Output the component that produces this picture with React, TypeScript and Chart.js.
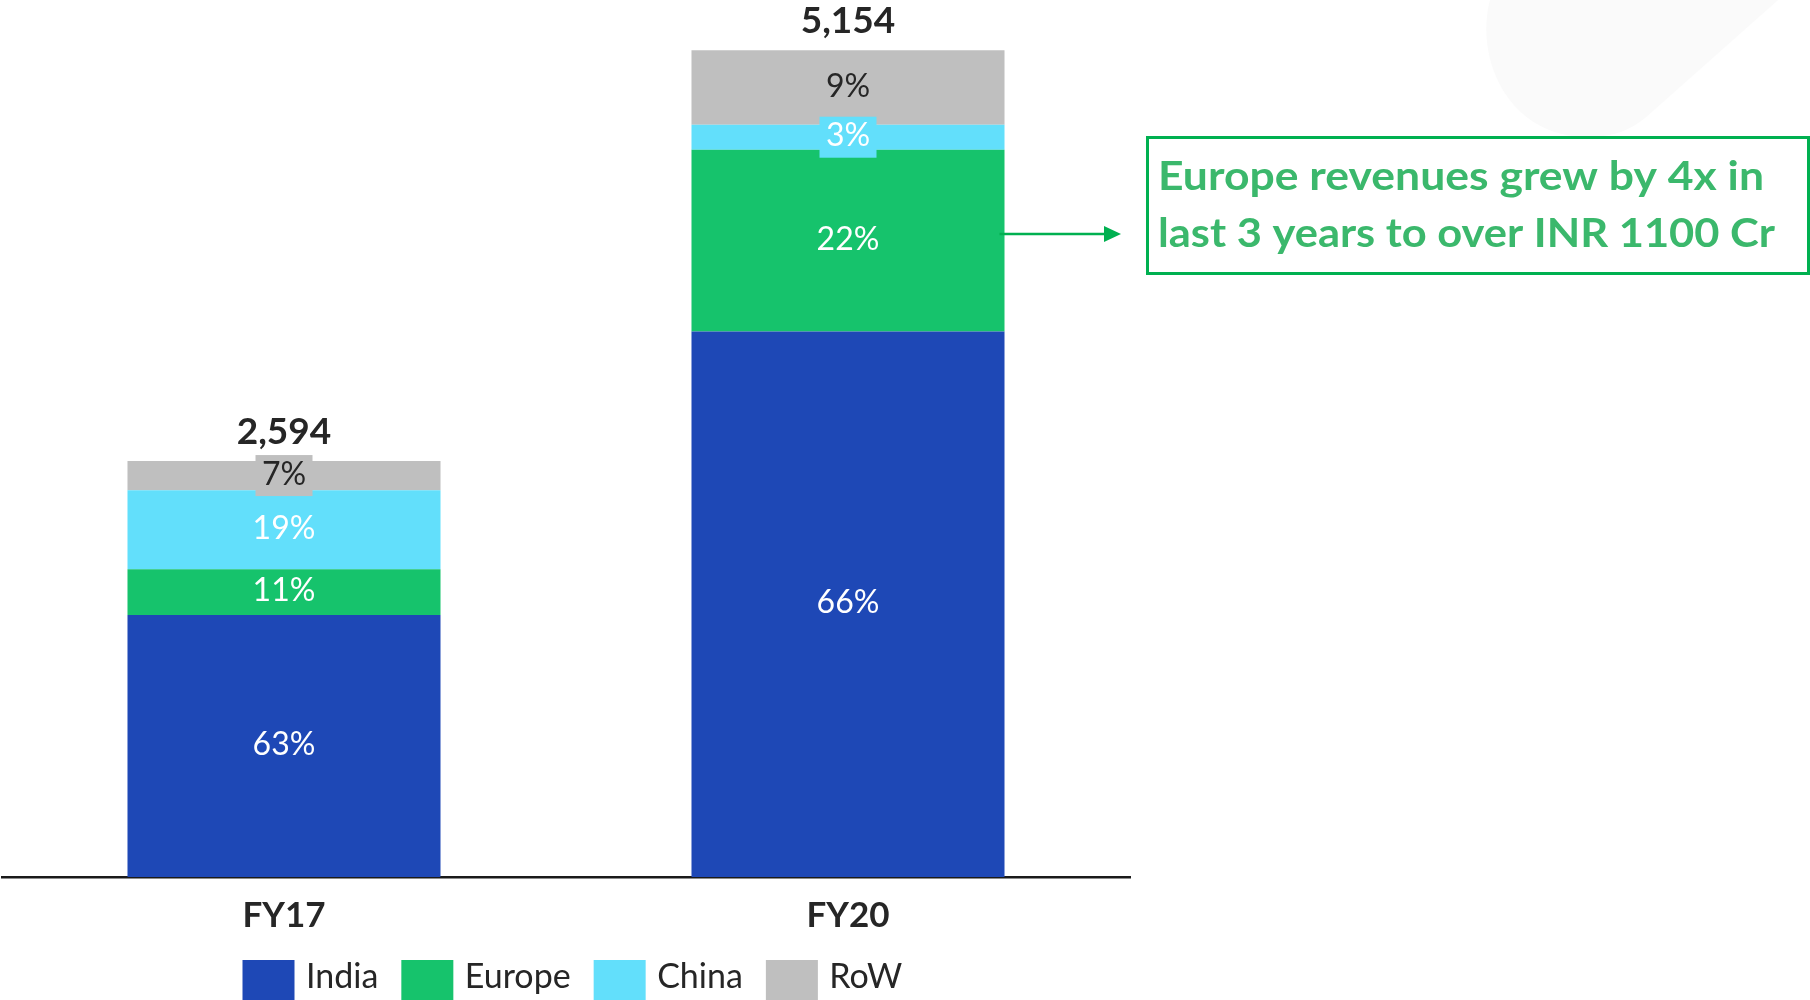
import React, { useEffect, useRef } from "react";
import { Chart, registerables } from "chart.js";

Chart.register(...registerables);

// ---- Data ----
const categories = ["FY17", "FY20"];
const seriesNames = ["India", "Europe", "China", "RoW"];
const india = [1634, 3401];
const europe = [285, 1134];
const china = [493, 155];
const row = [182, 464];
const seriesColors = ["#1E48B6", "#16C36C", "#62DFFB", "#BFBFBF"];
const labelColors = ["#FFFFFF", "#FFFFFF", "#FFFFFF", "#262626"];
const annotationLines = ["Europe revenues grew by 4x in", "last 3 years to over INR 1100 Cr"];
const annotationWidths = [606, 617];
const Y_MAX = 5468;

const seriesData = [india, europe, china, row];

const DARK = "#262626";
const FONT = "Lato, 'Open Sans', sans-serif";

const decorPlugin = {
  id: "decor",
  beforeDraw(chart: any) {
    const ctx: CanvasRenderingContext2D = chart.ctx;
    ctx.save();
    ctx.fillStyle = "#FFFFFF";
    ctx.fillRect(0, 0, chart.width, chart.height);
    // faint background shape (top right)
    ctx.fillStyle = "#FAFAFA";
    ctx.beginPath();
    ctx.moveTo(1490, 0);
    ctx.bezierCurveTo(1474, 60, 1510, 140, 1592, 137);
    ctx.bezierCurveTo(1615, 136, 1630, 130, 1645, 118);
    ctx.lineTo(1778, 0);
    ctx.closePath();
    ctx.fill();
    ctx.restore();
  },
  afterDatasetsDraw(chart: any) {
    const ctx: CanvasRenderingContext2D = chart.ctx;
    const nDs = chart.data.datasets.length;
    ctx.save();
    ctx.textAlign = "center";
    ctx.textBaseline = "alphabetic";
    categories.forEach((_, j) => {
      let total = 0;
      for (let d = 0; d < nDs; d++) total += chart.data.datasets[d].data[j];
      let topY = Infinity;
      for (let d = 0; d < nDs; d++) {
        const el = chart.getDatasetMeta(d).data[j];
        const v = chart.data.datasets[d].data[j];
        const pct = Math.round((v / total) * 100);
        const c = (el.y + el.base) / 2;
        const h = Math.abs(el.base - el.y);
        topY = Math.min(topY, el.y);
        if (h < 40) {
          ctx.fillStyle = seriesColors[d];
          ctx.fillRect(el.x - 28.5, c - 20.5, 57, 41);
        }
        ctx.font = `32px ${FONT}`;
        ctx.fillStyle = labelColors[d];
        ctx.fillText(`${pct}%`, el.x, c + 9);
      }
      const x = chart.getDatasetMeta(0).data[j].x;
      ctx.font = `bold 37px ${FONT}`;
      ctx.fillStyle = DARK;
      ctx.fillText(total.toLocaleString("en-US"), x, topY - 17);
    });
    ctx.restore();
  },
  afterDraw(chart: any) {
    const ctx: CanvasRenderingContext2D = chart.ctx;
    const xs = chart.scales.x;
    ctx.save();
    // category labels
    ctx.textAlign = "center";
    ctx.textBaseline = "alphabetic";
    ctx.font = `bold 35px ${FONT}`;
    ctx.fillStyle = DARK;
    categories.forEach((c, i) => {
      ctx.fillText(c, xs.getPixelForValue(i), 926.5);
    });
    // legend
    ctx.textAlign = "left";
    ctx.font = `34px ${FONT}`;
    let lx = 242.5;
    seriesNames.forEach((n, i) => {
      ctx.fillStyle = seriesColors[i];
      ctx.fillRect(lx, 960, 52, 52);
      ctx.fillStyle = DARK;
      const tx = lx + 63.5;
      ctx.fillText(n, tx, 988);
      lx = tx + ctx.measureText(n).width + 23;
    });
    // annotation box
    ctx.strokeStyle = "#00B050";
    ctx.lineWidth = 3;
    ctx.strokeRect(1147.5, 137.5, 661, 136);
    ctx.fillStyle = "#3BB86C";
    ctx.font = `bold 40px ${FONT}`;
    const baselines = [190, 246.5];
    annotationLines.forEach((line, k) => {
      const w = ctx.measureText(line).width;
      const sx = annotationWidths[k] / w;
      ctx.save();
      ctx.translate(1158, baselines[k]);
      ctx.scale(sx, 1);
      ctx.fillText(line, 0, 0);
      ctx.restore();
    });
    // arrow from Europe FY20 segment
    const eu = chart.getDatasetMeta(1).data[1];
    const ax0 = eu.x + eu.width / 2 - 5;
    const ay = 234;
    ctx.strokeStyle = "#00B050";
    ctx.lineWidth = 2.5;
    ctx.beginPath();
    ctx.moveTo(ax0, ay);
    ctx.lineTo(1108, ay);
    ctx.stroke();
    ctx.fillStyle = "#00B050";
    ctx.beginPath();
    ctx.moveTo(1104, 226);
    ctx.lineTo(1121, ay);
    ctx.lineTo(1104, 242);
    ctx.closePath();
    ctx.fill();
    ctx.restore();
  },
};

export default function App() {
  const ref = useRef<HTMLCanvasElement | null>(null);
  useEffect(() => {
    if (!ref.current) return;
    const chart = new Chart(ref.current, {
      type: "bar",
      data: {
        labels: categories,
        datasets: seriesNames.map((n, i) => ({
          label: n,
          data: seriesData[i],
          backgroundColor: seriesColors[i],
          borderWidth: 0,
          categoryPercentage: 1,
          barPercentage: 0.555,
        })),
      },
      options: {
        responsive: false,
        animation: false,
        devicePixelRatio: 1,
        layout: { padding: { left: 2, right: 680, top: 0, bottom: 123 } },
        plugins: { legend: { display: false }, tooltip: { enabled: false } },
        scales: {
          x: {
            stacked: true,
            grid: { display: false, drawTicks: false },
            ticks: { display: false },
            border: { display: true, color: "#1A1A1A", width: 2.5 },
          },
          y: { stacked: true, display: false, min: 0, max: Y_MAX },
        },
      } as any,
      plugins: [decorPlugin],
    });
    return () => chart.destroy();
  }, []);
  return (
    <div style={{ position: "fixed", left: 0, top: 0, width: 1810, height: 1000, background: "#fff" }}>
      <canvas ref={ref} width={1810} height={1000} style={{ display: "block", width: 1810, height: 1000 }} />
    </div>
  );
}
